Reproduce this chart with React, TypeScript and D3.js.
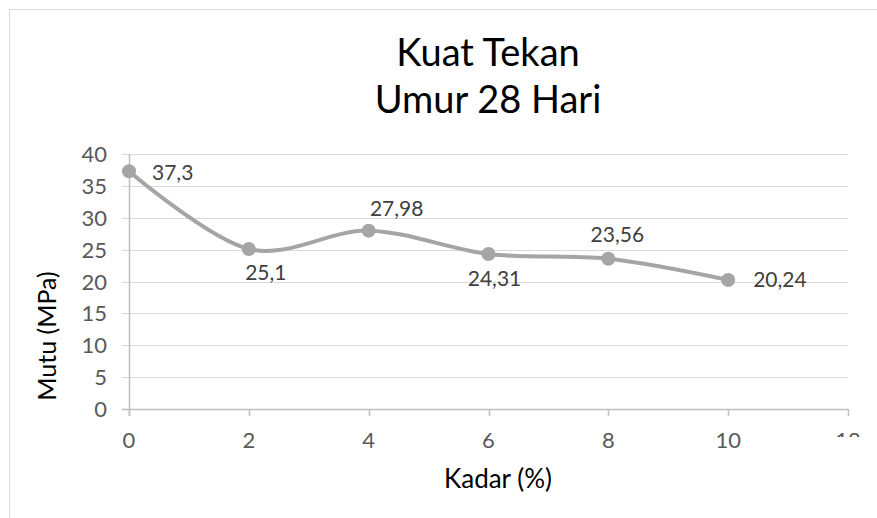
import React from 'react';
import * as d3 from 'd3';

// chart data
const kadar = [0, 2, 4, 6, 8, 10];
const mutu = [37.3, 25.1, 27.98, 24.31, 23.56, 20.24];
const labels = ['37,3', '25,1', '27,98', '24,31', '23,56', '20,24'];
const xTicks = [0, 2, 4, 6, 8, 10, 12];
const yTicks = [0, 5, 10, 15, 20, 25, 30, 35, 40];

// label placement relative to the point (style only)
const labelOffsets: [number, number, string][] = [
  [23, 9, 'start'],
  [17, 31, 'middle'],
  [28, -15, 'middle'],
  [6, 32, 'middle'],
  [9, -17, 'middle'],
  [25, 7, 'start'],
];

const W = 877;
const H = 518;
const FONT = 'Lato, "Noto Sans", sans-serif';

export default function App() {
  const x = d3.scaleLinear().domain([0, 12]).range([129, 848]);
  const y = d3.scaleLinear().domain([0, 40]).range([409, 154]);

  const pts = kadar.map((k, i) => [x(k), y(mutu[i])] as [number, number]);
  const line = d3.line().curve(d3.curveCardinal.tension(0));

  return (
    <svg
      width={W}
      height={H}
      style={{ position: 'absolute', left: 0, top: 0, background: '#fff' }}
      fontFamily={FONT}
    >
      <defs>
        <clipPath id="lastTick">
          <rect x={0} y={0} width={W} height={437} />
        </clipPath>
      </defs>
      <rect x={9.5} y={9.5} width={1200} height={1200} fill="none" stroke="#d9d9d9" />

      {/* title */}
      <text x={488} y={66} textAnchor="middle" fontSize={38} fill="#000">Kuat Tekan</text>
      <text x={488} y={113} textAnchor="middle" fontSize={38} fill="#000">Umur 28 Hari</text>

      {/* gridlines */}
      {yTicks.map(t => (
        <line key={t} x1={122} x2={848} y1={Math.round(y(t)) + 0.5} y2={Math.round(y(t)) + 0.5}
          stroke={t === 0 ? '#bfbfbf' : '#d9d9d9'} strokeWidth={t === 0 ? 1.5 : 1} />
      ))}
      {/* y axis */}
      <line x1={129.5} x2={129.5} y1={y(40)} y2={416} stroke="#bfbfbf" strokeWidth={1.5} />
      {xTicks.map(t => (
        <line key={t} x1={Math.round(x(t)) + 0.5} x2={Math.round(x(t)) + 0.5} y1={409} y2={416}
          stroke="#bfbfbf" strokeWidth={1.5} />
      ))}
      {yTicks.map(t => (
        <text key={t} x={107} y={y(t) + 8} textAnchor="end" fontSize={22} fill="#595959">{t}</text>
      ))}
      {xTicks.map(t => (
        <text key={t} x={x(t)} y={448} textAnchor="middle" fontSize={22} fill="#595959"
          clipPath={t === 12 ? 'url(#lastTick)' : undefined}>{t}</text>
      ))}

      {/* axis titles */}
      <text x={498} y={488} textAnchor="middle" fontSize={26} fill="#000">Kadar (%)</text>
      <text transform={`translate(56,336) rotate(-90)`} textAnchor="middle" fontSize={25} fill="#000">Mutu (MPa)</text>

      {/* series */}
      <path d={line(pts) || ''} fill="none" stroke="#a5a5a5" strokeWidth={4} strokeLinecap="round" />
      {pts.map((p, i) => (
        <circle key={i} cx={p[0]} cy={p[1]} r={7} fill="#a5a5a5" />
      ))}
      {pts.map((p, i) => (
        <text key={i} x={p[0] + labelOffsets[i][0]} y={p[1] + labelOffsets[i][1]}
          textAnchor={labelOffsets[i][2]} fontSize={21} fill="#404040">{labels[i]}</text>
      ))}
    </svg>
  );
}
